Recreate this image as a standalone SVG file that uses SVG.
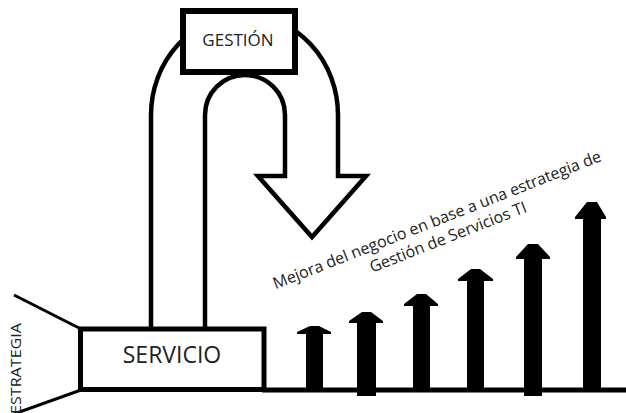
<svg xmlns="http://www.w3.org/2000/svg" width="626" height="413" viewBox="0 0 626 413">
  <style>
    .band { fill: #fff; stroke: #000; stroke-width: 4.5; stroke-linejoin: miter; }
    .box { fill: #fff; stroke: #000; }
    .bar { fill: #000; }
    .lbl { font-family: "Open Sans", "Liberation Sans", sans-serif; fill: #222; }
    .line { stroke: #000; stroke-width: 3; fill: none; }
  </style>
  <rect x="0" y="0" width="626" height="413" fill="#fff"/>
  <g id="connectors">
    <path id="cycle-arrow" class="band" d="M151,331 V115 A93.5,100 0 0 1 338,115 V176 H366 L312,237 L258,176 H285 V115 A40,40 0 0 0 205,115 V331"/>
    <line class="line" x1="14" y1="295" x2="81" y2="329"/>
    <line class="line" x1="81" y1="390" x2="14" y2="414"/>
    <rect id="baseline" x="262" y="387.5" width="364" height="5" fill="#000"/>
  </g>
  <g id="gestion">
    <rect class="box" x="183" y="11" width="112" height="61" stroke-width="6"/>
    <text class="lbl" x="238" y="46" font-size="17" text-anchor="middle">GESTIÓN</text>
  </g>
  <g id="servicio">
    <rect class="box" x="80.5" y="329" width="183.5" height="60.5" stroke-width="5"/>
    <text class="lbl" x="172" y="363" font-size="23" text-anchor="middle">SERVICIO</text>
  </g>
  <g id="estrategia">
    <text class="lbl" transform="translate(21,414) rotate(-90)" font-family="Liberation Sans, sans-serif" font-size="15" fill="#222" textLength="91" lengthAdjust="spacingAndGlyphs">ESTRATEGIA</text>
  </g>
  <g id="bars">
    <path class="bar" d="M306,391 V334 H297 V332 L310,326 H319 L331,332 V334 H323 V391 Z"/>
    <path class="bar" d="M357,396 V323 H349 V321 L362,312 H371 L383,321 V323 H376 V396 Z"/>
    <path class="bar" d="M413,391 V306 H404 V304 L417,294 H426 L438,304 V306 H430 V391 Z"/>
    <path class="bar" d="M467,391 V281 H458 V279 L471,269 H480 L493,279 V281 H484 V391 Z"/>
    <path class="bar" d="M524,396 V259 H516 V257 L528,244 H538 L550,257 V259 H542 V396 Z"/>
    <path class="bar" d="M583,391 V219 H575 V217 L587,202 H597 L606,217 V219 H601 V391 Z"/>
  </g>
  <g id="caption" transform="rotate(-21.5 439 225)">
    <text class="lbl" x="439" y="225" font-size="16" fill="#333" text-anchor="middle">Mejora del negocio en base a una estrategia de</text>
    <text class="lbl" x="443" y="245" font-size="16" fill="#333" text-anchor="middle">Gestión de Servicios TI</text>
  </g>
</svg>
